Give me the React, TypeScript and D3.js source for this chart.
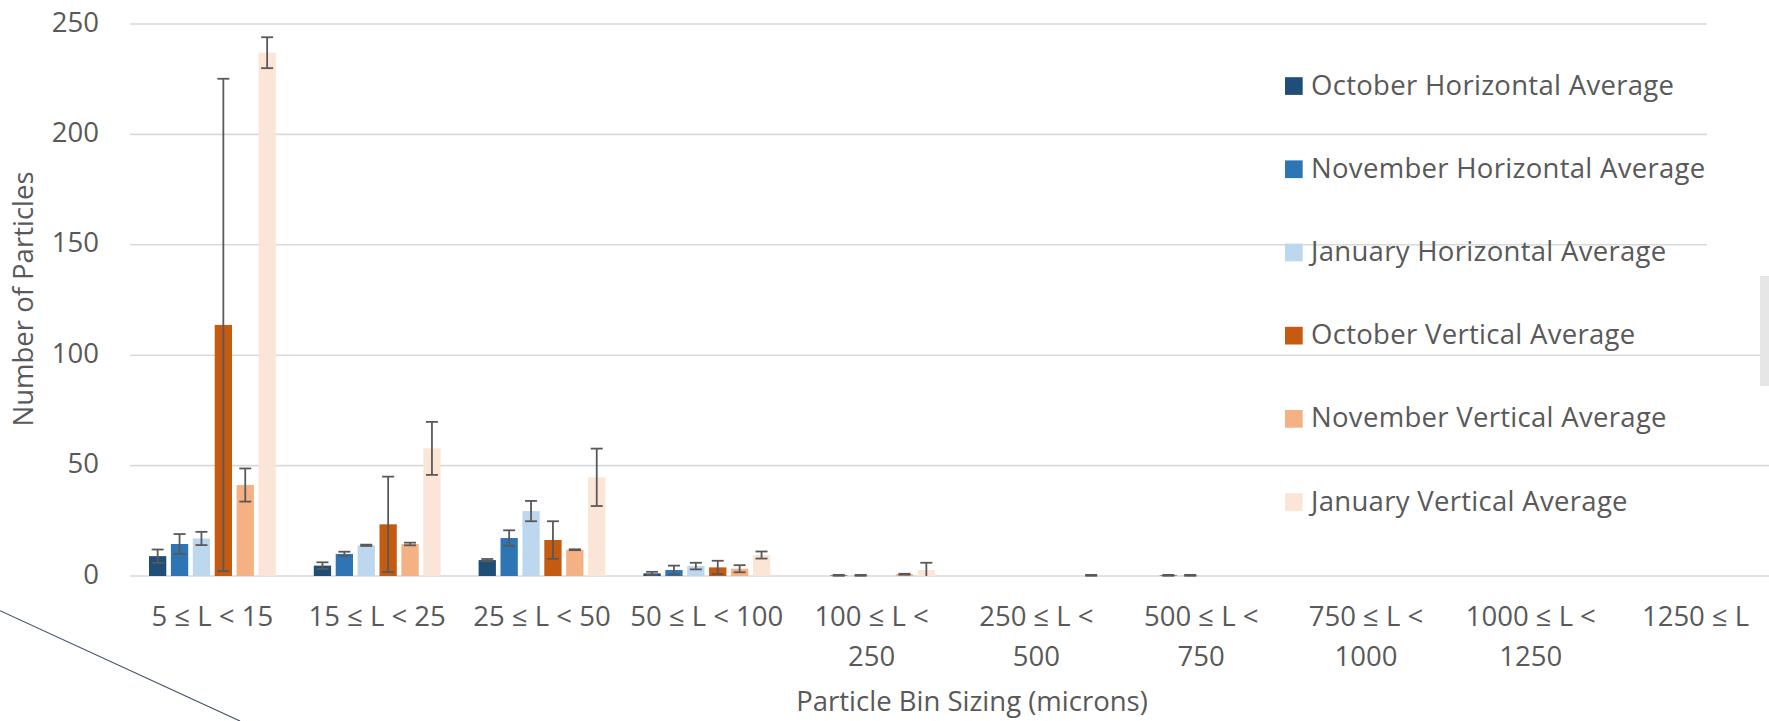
import React from "react";
import * as d3 from "d3";

const categories = [
  "5 ≤ L < 15",
  "15 ≤ L < 25",
  "25 ≤ L < 50",
  "50 ≤ L < 100",
  "100 ≤ L < 250",
  "250 ≤ L < 500",
  "500 ≤ L < 750",
  "750 ≤ L < 1000",
  "1000 ≤ L < 1250",
  "1250 ≤ L",
];
// how Excel wrapped the category labels
const tickLines = [
  ["5 ≤ L < 15"],
  ["15 ≤ L < 25"],
  ["25 ≤ L < 50"],
  ["50 ≤ L < 100"],
  ["100 ≤ L <", "250"],
  ["250 ≤ L <", "500"],
  ["500 ≤ L <", "750"],
  ["750 ≤ L <", "1000"],
  ["1000 ≤ L <", "1250"],
  ["1250 ≤ L"],
];

const seriesNames = [
  "October Horizontal Average",
  "November Horizontal Average",
  "January Horizontal Average",
  "October Vertical Average",
  "November Vertical Average",
  "January Vertical Average",
];
const couleurs = ["#1F4E79", "#2E75B6", "#BDD7EE", "#C55A11", "#F4B183", "#FBE5D6"];

const octH = [9, 4.7, 7.2, 1.2, 0, 0, 0, 0, 0, 0];
const novH = [14.5, 10, 17.2, 2.7, 0.3, 0, 0.3, 0, 0, 0];
const janH = [17, 13.9, 29.4, 4.5, 0.3, 0, 0.3, 0, 0, 0];
const octV = [113.7, 23.4, 16.3, 3.9, 0, 0, 0, 0, 0, 0];
const novV = [41.2, 14.5, 11.9, 3.3, 0.8, 0, 0, 0, 0, 0];
const janV = [237, 57.8, 44.7, 9.5, 2.7, 0.3, 0, 0, 0, 0];

const octHErr = [3, 1.5, 0.5, 0.7, 0, 0, 0, 0, 0, 0];
const novHErr = [4.5, 1, 3.5, 2, 0.2, 0, 0.2, 0, 0, 0];
const janHErr = [3, 0.3, 4.6, 1.5, 0.2, 0, 0.2, 0, 0, 0];
const octVErr = [111.5, 21.6, 8.5, 3, 0, 0, 0, 0, 0, 0];
const novVErr = [7.5, 0.6, 0.2, 1.6, 0.2, 0, 0, 0, 0, 0];
const janVErr = [7, 12, 13, 1.6, 3.3, 0.2, 0, 0, 0, 0];

const yTicks = [0, 50, 100, 150, 200, 250];

const values = [octH, novH, janH, octV, novV, janV];
const errors = [octHErr, novHErr, janHErr, octVErr, novVErr, janVErr];

const W = 1769;
const H = 721;
const font = "'Open Sans', sans-serif";
const grey = "#595959";
const fs = 27.5;

export default function App() {
  const x0 = d3.scaleBand().domain(categories).range([130, 1778]).padding(0);
  const x1 = d3
    .scaleBand()
    .domain(seriesNames)
    .range([0, x0.bandwidth()])
    .paddingInner(0.21)
    .paddingOuter(0.868);
  const y = d3.scaleLinear().domain([0, 250]).range([576, 24]);
  const capW = 12;

  return (
    <svg
      width={W}
      height={H}
      style={{ position: "absolute", left: 0, top: 0, background: "#fff" }}
      fontFamily={font}
    >
      <rect width={W} height={H} fill="#fff" />

      {/* gridlines */}
      {yTicks.map(t => (
        <line key={t} x1={130} x2={1778} y1={y(t)} y2={y(t)} stroke="#D9D9D9" strokeWidth={1.6} />
      ))}
      {yTicks.map(t => (
        <text key={"l" + t} x={99} y={y(t) + 7.5} textAnchor="end" fontSize={fs} fill={grey}>
          {t}
        </text>
      ))}

      {/* bars */}
      {seriesNames.map((s, si) => (
        <g key={s}>
          {categories.map((c, ci) => {
            const v = values[si][ci];
            if (v <= 0) return null;
            return (
              <rect
                key={c}
                x={(x0(c) as number) + (x1(s) as number)}
                y={y(v)}
                width={x1.bandwidth()}
                height={y(0) - y(v)}
                fill={couleurs[si]}
              />
            );
          })}
        </g>
      ))}

      {/* error bars */}
      {seriesNames.map((s, si) => (
        <g key={"e" + s} stroke={grey} strokeWidth={1.8}>
          {categories.map((c, ci) => {
            const v = values[si][ci];
            const e = errors[si][ci];
            if (v <= 0) return null;
            const cx = (x0(c) as number) + (x1(s) as number) + x1.bandwidth() / 2;
            const hi = v + e;
            const lo = v - e;
            return (
              <g key={c}>
                <line x1={cx} x2={cx} y1={y(hi)} y2={y(Math.max(lo, 0))} />
                <line x1={cx - capW / 2} x2={cx + capW / 2} y1={y(hi)} y2={y(hi)} />
                {lo >= 0 && <line x1={cx - capW / 2} x2={cx + capW / 2} y1={y(lo)} y2={y(lo)} />}
              </g>
            );
          })}
        </g>
      ))}

      {/* category labels */}
      {categories.map((c, ci) => (
        <text key={c} textAnchor="middle" fontSize={fs} fill={grey}>
          {tickLines[ci].map((ln, li) => (
            <tspan key={li} x={(x0(c) as number) + x0.bandwidth() / 2} y={626 + li * 40}>
              {ln}
            </tspan>
          ))}
        </text>
      ))}

      <text x={972} y={711} textAnchor="middle" fontSize={fs} fill={grey}>
        Particle Bin Sizing (microns)
      </text>
      <text transform="translate(32.5,299) rotate(-90)" textAnchor="middle" fontSize={fs} fill={grey}>
        Number of Particles
      </text>

      {/* covering panel on the right and cropped edge */}
      <rect x={1707} y={0} width={62} height={300} fill="#fff" />
      <rect x={1760} y={276} width={9} height={110} fill="#E6E6E6" />

      {/* legend */}
      {seriesNames.map((s, si) => {
        const cy = 86 + si * 83.2;
        return (
          <g key={"lg" + s}>
            <rect x={1285} y={cy - 8.8} width={17.7} height={17.7} fill={couleurs[si]} />
            <text x={1311} y={cy + 8.5} fontSize={fs} fill={grey} letterSpacing={0.3}>
              {s}
            </text>
          </g>
        );
      })}

      <line x1={0} y1={610.7} x2={240} y2={721} stroke="#44546A" strokeWidth={1.2} />
    </svg>
  );
}
